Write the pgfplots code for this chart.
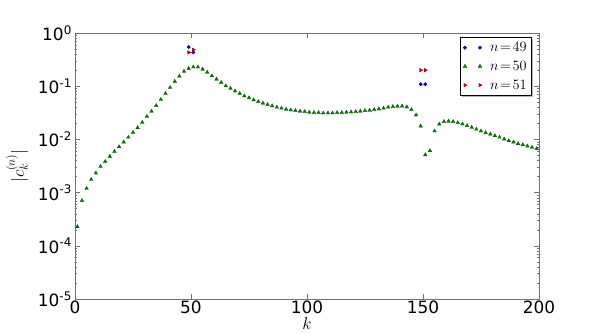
\documentclass[border=0pt]{standalone}
\usepackage[no-math]{fontspec}
\usepackage{pgfplots}
\pgfplotsset{compat=1.18}
\usetikzlibrary{shadows}
\newfontfamily\dejavu{DejaVu Sans}
\definecolor{mplblue}{rgb}{0,0,1}
\definecolor{mplgreen}{rgb}{0,0.5,0}
\definecolor{mplred}{rgb}{0.85,0,0}

\begin{document}
\begin{tikzpicture}
\begin{axis}[
    name=ax,
    scale only axis,
    width=464bp, height=266bp,
    ymode=log,
    xmin=0, xmax=200, ymin=1e-5, ymax=1,
    xtick={0,50,100,150,200},
    ytick={1e-5,1e-4,1e-3,1e-2,1e-1,1},
    yticklabels={10\textsuperscript{-5},10\textsuperscript{-4},10\textsuperscript{-3},10\textsuperscript{-2},10\textsuperscript{-1},10\textsuperscript{0}},
    xticklabels={0,50,100,150,200},
    ticklabel style={font=\dejavu\fontsize{17}{17}\selectfont},
    xticklabel style={inner sep=1.5bp},
    yticklabel style={inner sep=3bp},
    axis line style={black!55, line width=0.6bp},
    tick style={black!55, line width=0.5bp},
    tick align=inside,
    major tick length=5bp, minor tick length=2.5bp,
    every axis x label/.style={at={(axis description cs:0.5,-0.092)},anchor=center},
    every axis y label/.style={at={(axis description cs:-0.125,0.5)},rotate=90,anchor=center},
    xlabel={\fontsize{18}{18}\selectfont$k$},
    ylabel={\fontsize{18}{18}\selectfont$|c_k^{(n)}|$},
    legend cell align=left,
    legend style={at={(0.985,0.985)}, anchor=north east, draw=black, line width=0.7bp,
        font=\fontsize{14}{16}\selectfont, inner xsep=3bp, inner ysep=3bp, row sep=4bp,
        /tikz/every odd column/.append style={column sep=6bp},
        drop shadow={shadow xshift=1.5bp, shadow yshift=-1.5bp, fill=black!55}},
    legend image code/.code={\draw[mark repeat=1, mark phase=1] plot coordinates {(4bp,0bp) (19bp,0bp)};},
]
\addplot[only marks, mark=*, mark size=1.8bp, draw=mplblue!60!black, fill=mplblue, line width=0.2bp] coordinates {
    (49,0.544) (51,0.432) (149,0.109) (151,0.109)
};
\addlegendentry{$n\!=\!49$}
\addplot[only marks, mark=triangle*, mark size=2.2bp, draw=mplgreen!60!black, fill=mplgreen, line width=0.2bp] coordinates {
    (1,2.29e-4) (3,7.08e-4) (5,1.20e-3) (7,1.76e-3) (9,2.34e-3)
    (11,3.09e-3) (13,3.85e-3) (15,4.79e-3) (17,5.94e-3) (19,7.28e-3)
    (21,8.91e-3) (23,0.01096) (25,0.01349) (27,0.01660) (29,0.02089)
    (31,0.02692) (33,0.03388) (35,0.04325) (37,0.05623) (39,0.07278)
    (41,0.09441) (43,0.1230) (45,0.1549) (47,0.1905) (49,0.2158)
    (51,0.2291) (53,0.2291) (55,0.2089) (57,0.1820) (59,0.1563)
    (61,0.1355) (63,0.1175) (65,0.1014) (67,0.0912) (69,0.0813)
    (71,0.0731) (73,0.0656) (75,0.0603) (77,0.0552) (79,0.0513)
    (81,0.0479) (83,0.0452) (85,0.0427) (87,0.0402) (89,0.0385)
    (91,0.0368) (93,0.0357) (95,0.0348) (97,0.0339) (99,0.0333)
    (101,0.0324) (103,0.0319) (105,0.0319) (107,0.0313) (109,0.0313)
    (111,0.0313) (113,0.0319) (115,0.0319) (117,0.0324) (119,0.0327)
    (121,0.0333) (123,0.0339) (125,0.0348) (127,0.0352) (129,0.0363)
    (131,0.0373) (133,0.0385) (135,0.0402) (137,0.0414) (139,0.0420)
    (141,0.0423) (143,0.0407) (145,0.0363) (147,0.0288) (149,0.0178)
    (151,0.00513) (153,0.00612) (155,0.01436) (157,0.01936) (159,0.02158)
    (161,0.02203) (163,0.02158) (165,0.02065) (167,0.01945) (169,0.01820)
    (171,0.01683) (173,0.01549) (175,0.01436) (177,0.01337) (179,0.01259)
    (181,0.01175) (183,0.01096) (185,0.01014) (187,0.00944) (189,0.00891)
    (191,0.00832) (193,0.00794) (195,0.00748) (197,0.00708) (199,0.00668)
};
\addlegendentry{$n\!=\!50$}
\addplot[only marks, mark=triangle*, mark options={rotate=-90}, mark size=2.2bp, draw=mplred!60!black, fill=mplred, line width=0.2bp] coordinates {
    (49,0.432) (51,0.484) (149,0.200) (151,0.200)
};
\addlegendentry{$n\!=\!51$}
\end{axis}
\pgfresetboundingbox
\path ([xshift=-75bp,yshift=-35bp]ax.south west) rectangle ([xshift=524bp,yshift=299bp]ax.south west);
\end{tikzpicture}
\end{document}
